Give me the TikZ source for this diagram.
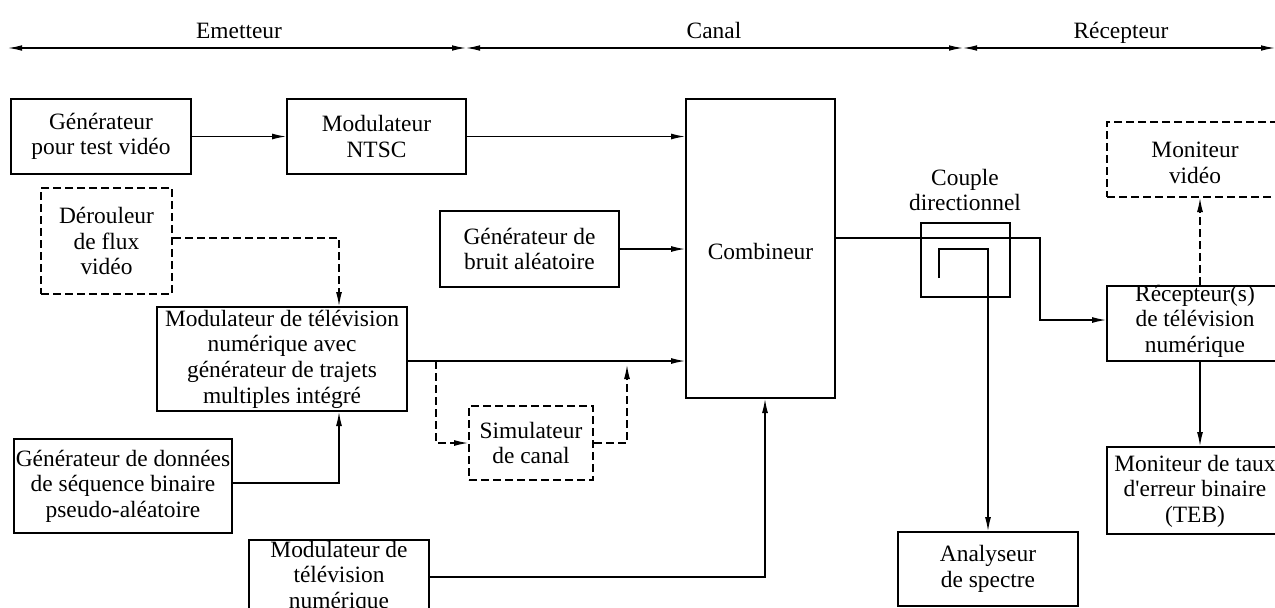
\documentclass[tikz,border=0pt]{standalone}
\usepackage{fontspec}
\setmainfont{Liberation Serif}
\usetikzlibrary{arrows.meta,calc}
\newcommand\dsz{\fontsize{11.7}{12.8}\selectfont}
\begin{document}
\begin{tikzpicture}[x=0.5pt,y=-0.5pt,
  box/.style={draw, line width=1pt, inner sep=0pt, align=center, font=\dsz},
  dbox/.style={box, dash pattern=on 4pt off 2pt},
  txt/.style={inner sep=0pt, align=center, font=\dsz},
  conn/.style={line width=0.6pt, -{Latex[length=7pt,width=3pt]}},
  dconn/.style={conn, dash pattern=on 4pt off 2pt},
  dbl/.style={line width=0.6pt, {Latex[length=7pt,width=2.8pt]}-{Latex[length=7pt,width=2.8pt]}}]
\useasboundingbox (0,0) rectangle (1275,607);
\clip (0,0) rectangle (1275,607);

% top scale
\coordinate (tL) at (8,48);
\coordinate (tA) at (466,48);
\coordinate (tB) at (963,48);
\coordinate (tR) at (1275,48);
\draw[dbl] (tL) -- (tA);
\draw[dbl] (tA) -- (tB);
\draw[dbl] (tB) -- (tR);
\node[txt, anchor=base] (lemet) at (239,38) {Emetteur};
\node[txt, anchor=base] (lcan) at (714,38) {Canal};
\node[txt, anchor=base] (lrec) at (1121,38) {Récepteur};

% boxes
\node[box, minimum width=90pt, minimum height=37.5pt] (gen) at (101,136.5) {Générateur\\pour test vidéo};
\node[box, minimum width=89.5pt, minimum height=37.5pt] (ntsc) at (376.5,136.5) {Modulateur\\NTSC};
\node[box, minimum width=74.5pt, minimum height=149.5pt] (comb) at (760.5,248.5) {};
\node[txt] (combtxt) at (760.5,251) {Combineur};
\node[dbox, minimum width=65.5pt, minimum height=53pt] (deroul) at (106.5,241) {Dérouleur\\de flux\\vidéo};
\node[box, minimum width=89.5pt, minimum height=38pt] (bruit) at (529.5,249) {Générateur de\\bruit aléatoire};
\node[box, minimum width=125pt, minimum height=52pt] (modmulti) at (282,359) {Modulateur de télévision\\numérique avec\\générateur de trajets\\multiples intégré};
\node[dbox, minimum width=62pt, minimum height=37pt] (simul) at (531,443) {Simulateur\\de canal};
\node[box, minimum width=109pt, minimum height=47pt] (donnees) at (123,486) {Générateur de données\\de séquence binaire\\pseudo-aléatoire};
\node[box, minimum width=90pt, minimum height=42pt] (modbas) at (339,582) {};
\node[txt] (modbastxt) at (339,577) {Modulateur de\\télévision\\numérique};
\node[box, minimum width=90pt, minimum height=37pt] (analyseur) at (988,569) {Analyseur\\de spectre};
\node[box, minimum width=93pt, minimum height=37.5pt] (recep) at (1200,323.5) {};
\node[txt] (receptxt) at (1195,321) {Récepteur(s)\\de télévision\\numérique};
\node[box, minimum width=93pt, minimum height=43.5pt] (montaux) at (1200,490.5) {};
\node[txt] (montauxtxt) at (1195,491) {Moniteur de taux\\d\textquotesingle erreur binaire\\(TEB)};
\node[dbox, minimum width=93pt, minimum height=37.5pt] (monvid) at (1200,159.5) {};
\node[txt] (monvidtxt) at (1195,163) {Moniteur\\vidéo};
\node[box, minimum width=44.5pt, minimum height=37pt] (coupler) at (965.5,260) {};
\node[txt] (couplab) at (965,190) {Couple\\directionnel};

% helper coordinates
\coordinate (tdx) at (339,0);
\coordinate (splx) at (436,0);
\coordinate (retx) at (627,0);
\coordinate (combinx) at (765,0);
\coordinate (bend) at (1040,0);
\coordinate (cpin) at (939,278);
\coordinate (cpx) at (988,0);

% connectors
\draw[conn] (gen.east) -- (ntsc.west);
\draw[conn] (ntsc.east) -- (ntsc.east -| comb.west);
\draw[conn] (bruit.east) -- (bruit.east -| comb.west);
\draw[conn] ($(modmulti.east)+(0,2)$) -- ($(modmulti.east -| comb.west)+(0,2)$);
\draw[dconn] ($(deroul.east)+(0,-3)$) -| (modmulti.north -| tdx);
\draw[conn] ($(donnees.east)+(0,-3)$) -| (modmulti.south -| tdx);
\draw[dconn] ($(modmulti.east -| splx)+(0,2)$) |- (simul.west);
\draw[dconn] (simul.east) -| ($(modmulti.east -| retx)+(0,6)$);
\draw[conn] ($(modbas.east)+(0,-5)$) -| (comb.south -| combinx);
\draw[conn] ($(comb.east)+(0,-10.5)$) -| ($(recep.west -| bend)+(0,-3.5)$) -- ($(recep.west)+(0,-3.5)$);
\draw[conn] (cpin) |- ($(coupler.center -| cpx)+(0,-11)$) -- (analyseur.north);
\draw[conn] (recep.south) -- (montaux.north);
\draw[dconn] (recep.north) -- (monvid.south);
\end{tikzpicture}
\end{document}
